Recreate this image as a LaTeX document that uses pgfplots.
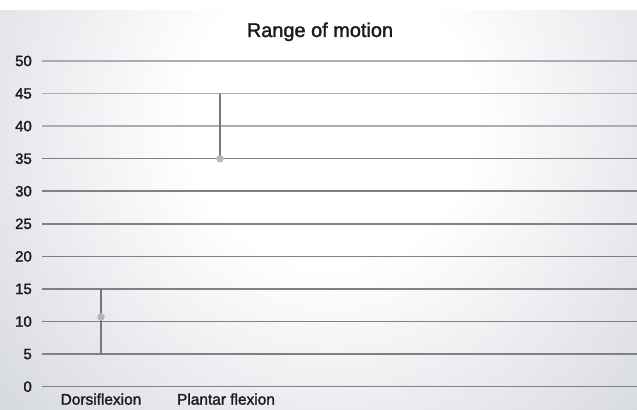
\documentclass[border=0pt]{standalone}
\usepackage{pgfplots}
\pgfplotsset{compat=1.18}
\usepackage{fontspec}
\setmainfont{Liberation Sans}
\newfontfamily\medfont{Liberation Sans}[FakeBold=1.6]
\usetikzlibrary{backgrounds}

\definecolor{bgcol}{HTML}{C3C7CF}
\definecolor{gridlo}{HTML}{7E8186}
\definecolor{gridhi}{HTML}{A9ADB4}
\definecolor{vline}{HTML}{74787E}
\definecolor{dotcol}{HTML}{B4B8BE}
\definecolor{txt}{HTML}{1A1A1A}

\pgfdeclareradialshading{glow}{\pgfpoint{0bp}{0bp}}{%
  color(0bp)=(white); color(9bp)=(white); color(36bp)=(bgcol); color(50bp)=(bgcol)}

\begin{document}
\begin{tikzpicture}
  \begin{axis}[
      scale only axis,
      width=595bp, height=325.7bp,
      xmin=42, xmax=637,
      ymin=0, ymax=50,
      clip=false,
      axis line style={draw=none},
      major tick length=0pt,
      xtick={101,226},
      xticklabels={Dorsiflexion, Plantar flexion},
      xticklabel style={font=\medfont\fontsize{15.5}{17}\selectfont, text=txt,
                        inner sep=0pt, anchor=base, yshift=-18bp},
      ytick={0,5,...,35},
      extra y ticks={40,45,50},
      extra y tick style={grid style={gridhi, line width=1.6bp}},
      ymajorgrids,
      grid style={gridlo, line width=1.6bp},
      yticklabel style={font=\medfont\fontsize{15}{17}\selectfont, text=txt,
                        inner sep=0pt, anchor=east, xshift=-10bp},
      /pgf/number format/assume math mode=true,
    ]
    % Dorsiflexion
    \addplot[vline, line width=1.5bp] coordinates {(101,5) (101,15)};
    \addplot[only marks, mark=*, mark size=3.5bp, dotcol] coordinates {(101,10.7)};
    % Plantar flexion
    \addplot[vline, line width=1.5bp] coordinates {(220,35) (220,45)};
    \addplot[only marks, mark=*, mark size=3.5bp, dotcol] coordinates {(220,35)};

    \node[anchor=base, text=txt, font=\medfont\fontsize{20}{22}\selectfont]
      at (axis cs:320,53.68) {Range of motion};

    \coordinate (tl) at (axis cs:0,59.36);
    \coordinate (bt) at (axis cs:0,57.68);
    \coordinate (br) at (axis cs:637,-3.58);
    \coordinate (glow) at (axis cs:330,40.9);
  \end{axis}
  \begin{scope}[on background layer]
    \fill[white] (tl) rectangle (br);
    \begin{scope}
      \clip (bt) rectangle (br);
      \fill[bgcol] (bt) rectangle (br);
      \shade[shading=glow] ([shift={(-400bp,-400bp)}]glow) rectangle ([shift={(400bp,400bp)}]glow);
    \end{scope}
  \end{scope}
  \pgfresetboundingbox
  \path (tl) rectangle (br);
\end{tikzpicture}
\end{document}
